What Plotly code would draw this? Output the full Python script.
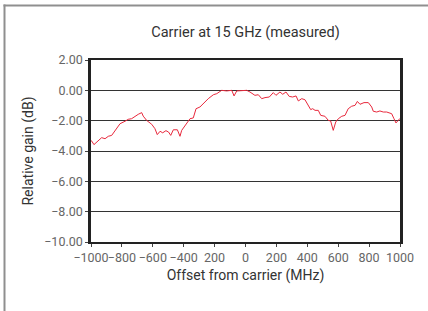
import plotly.graph_objects as go

# Offset from carrier (MHz) and relative gain (dB)
offset_mhz = [-1000, -995, -981, -966, -953, -931, -909, -888, -866, -845, -812, -780, -759,
              -737, -715, -694, -672, -662, -640, -607, -586, -571, -553, -536, -515, -498,
              -484, -467, -441, -424, -413, -385, -359, -338, -320, -295, -269, -241, -208,
              -186, -154, -122, -89, -74, -57, -25, 8, 29, 61, 83, 105, 126, 154, 180, 197,
              223, 241, 262, 283, 305, 327, 342, 364, 385, 406, 422, 435, 450, 471, 487, 514,
              536, 551, 568, 584, 601, 623, 644, 665, 687, 709, 724, 741, 767, 795, 817, 827,
              849, 870, 892, 914, 935, 946, 961, 974, 985, 996, 1000]
gain_db = [-3.3, -3.35, -3.58, -3.45, -3.3, -3.12, -3.19, -3.03, -2.97, -2.68, -2.2, -2.04, -1.91,
           -1.87, -1.69, -1.58, -1.47, -1.7, -1.98, -2.24, -2.53, -2.92, -2.7, -2.8, -2.66, -2.75,
           -2.97, -2.6, -2.6, -3.03, -2.64, -2.24, -1.87, -1.82, -1.21, -1.1, -0.83, -0.55, -0.29,
           -0.22, 0.0, -0.04, 0.0, -0.37, -0.04, -0.04, 0.0, -0.11, -0.33, -0.29, -0.55, -0.48,
           -0.44, -0.15, -0.33, -0.11, -0.26, -0.11, -0.4, -0.44, -0.37, -0.7, -0.55, -0.62,
           -0.95, -1.27, -1.21, -1.32, -1.32, -1.65, -1.71, -1.98, -2.02, -2.64, -2.09, -1.87,
           -1.71, -1.65, -1.21, -1.05, -0.99, -0.73, -0.92, -0.81, -0.81, -1.1, -1.38, -1.43,
           -1.36, -1.43, -1.43, -1.5, -1.54, -1.87, -2.15, -2.02, -1.87, -1.85]

x_tick_vals = [-1000, -800, -600, -400, -200, 0, 200, 400, 600, 800, 1000]
x_tick_text = ["\u22121000", "\u2212800", "\u2212600", "\u2212400", "200", "0", "200", "400", "600", "800", "1000"]
y_tick_vals = [-10, -8, -6, -4, -2, 0, 2]
y_tick_text = ["\u221210.00", "\u22128.00", "\u22126.00", "\u22124.00", "\u22122.00", "0.00", "2.00"]

fig = go.Figure()
fig.add_trace(go.Scatter(x=offset_mhz, y=gain_db, mode="lines",
                         line=dict(color="#e8283c", width=1), hoverinfo="skip"))

L, R, T, B = 91, 28, 60, 69
W, H = 428, 311
pw, ph = W - L - R, H - T - B

def px_x(p):
    return (p - L) / pw

def px_y(p):
    return (H - B - p) / ph

fig.update_layout(
    width=W, height=H,
    margin=dict(l=L, r=R, t=T, b=B, autoexpand=False),
    paper_bgcolor="white", plot_bgcolor="white",
    showlegend=False,
    font=dict(family="Roboto", size=12, color="#666"),
    title=dict(text="Carrier at 15 GHz (measured)", x=(L + pw / 2) / W, xanchor="center",
               y=1 - 32 / H, yanchor="middle", font=dict(size=14.5, color="#333")),
    xaxis=dict(range=[-1000, 1000], tickvals=x_tick_vals, ticktext=x_tick_text,
               tickangle=0,
               showgrid=False, zeroline=False, showline=True, linecolor="#222", linewidth=2,
               mirror=True, ticks="outside", ticklen=3, tickcolor="#444",
               tickfont=dict(size=12.5, color="#666"),
               title=dict(text="Offset from carrier (MHz)", font=dict(size=14, color="#333"),
                          standoff=6)),
    yaxis=dict(range=[-10, 2], tickvals=y_tick_vals, ticktext=y_tick_text,
               showgrid=True, gridcolor="#333", gridwidth=1, zeroline=False,
               showline=True, linecolor="#222", linewidth=2.5, mirror=True,
               ticks="outside", ticklen=3, tickcolor="#444",
               tickfont=dict(size=12.5, color="#666"),
               title=dict(text="Relative gain (dB)", font=dict(size=14, color="#333"),
                          standoff=8)),
    shapes=[
        dict(type="rect", xref="paper", yref="paper",
             x0=px_x(3.5), x1=px_x(W + 2), y0=px_y(6.5), y1=px_y(4.5),
             fillcolor="#8f8f8f", line=dict(width=0), layer="above"),
        dict(type="rect", xref="paper", yref="paper",
             x0=px_x(3.5), x1=px_x(5.5), y0=px_y(H + 2), y1=px_y(4.5),
             fillcolor="#8f8f8f", line=dict(width=0), layer="above"),
    ],
)

fig.write_html("out.html", config={"displayModeBar": False},
               post_script="document.body.style.margin='0';document.body.style.overflow='hidden';")
